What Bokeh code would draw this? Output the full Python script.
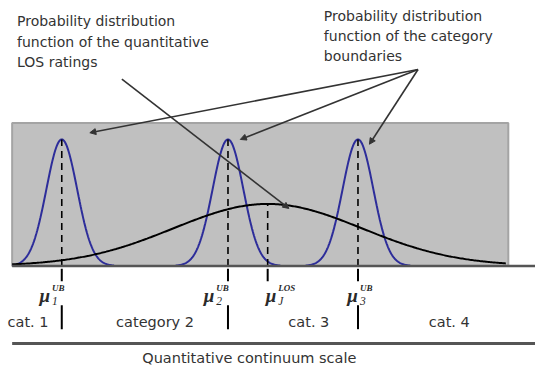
import numpy as np
from bokeh.plotting import figure
from bokeh.models import ColumnDataSource, Range1d, Arrow, NormalHead
from bokeh.embed import file_html
from bokeh.resources import INLINE
from bokeh.core.properties import value

# ---------------- data ----------------
scale_min, scale_max = 0.0, 10.0          # quantitative continuum scale (arbitrary units)
boundary_subs = ["1", "2", "3"]
boundary_means = [1.0, 4.35, 6.97]        # category boundary means mu_k^UB
boundary_sd = 0.31
boundary_peak = 1.0
los_mean = 5.15                           # mu_j^LOS
los_sd = 1.9
los_peak = 0.49
los_end = 9.95
categories = ["cat. 1", "category 2", "cat. 3", "cat. 4"]
category_pos = [0.32, 2.88, 5.98, 8.81]
left_note = ["Probability distribution", "function of the quantitative", "LOS ratings"]
right_note = ["Probability distribution", "function of the category", "boundaries"]
scale_title = "Quantitative continuum scale"

# ---------------- layout helpers ----------------
PXU = 51.1    # reference px per scale unit (x)
PXV = 132.0   # reference px per density unit (y)
TY = 5 / PXV  # text baseline correction
box_top = 1.13
W, H = 535, 367

p = figure(width=W, height=H,
           x_range=Range1d(-12 / PXU, (551 - 12) / PXU),
           y_range=Range1d((277 - 383) / PXV, 277 / PXV),
           output_backend="svg", toolbar_location=None,
           x_axis_type=None, y_axis_type=None, min_border=0)
p.grid.visible = False
p.outline_line_color = None
p.background_fill_color = "white"
p.border_fill_color = "white"

# grey panel
p.quad(left=[scale_min], right=[scale_max], bottom=[0], top=[box_top],
       fill_color="#c0c0c0", line_color="#a4a4a4", line_width=2)

# boundary distributions
for m in boundary_means:
    xs = np.linspace(max(scale_min, m - 3.4 * boundary_sd), min(scale_max, m + 3.4 * boundary_sd), 200)
    ys = boundary_peak * np.exp(-0.5 * ((xs - m) / boundary_sd) ** 2)
    p.line(xs, ys, line_color="#2d2d9a", line_width=2)
    p.line([m, m], [0, boundary_peak], line_color="black", line_width=1.6, line_dash="7 5")

# LOS distribution
xs = np.linspace(scale_min, los_end, 400)
ys = los_peak * np.exp(-0.5 * ((xs - los_mean) / los_sd) ** 2)
p.line(xs, ys, line_color="black", line_width=2)
p.line([los_mean, los_mean], [0, los_peak], line_color="black", line_width=1.6, line_dash="7 5")

# axis lines
axis_end = scale_max + 28 / PXU
p.line([scale_min, axis_end], [0, 0], line_color="#555555", line_width=2.5)
p.line([scale_min, axis_end], [-81 / PXV, -81 / PXV], line_color="#555555", line_width=3)

# ticks
tick_pos = [boundary_means[0], boundary_means[1], los_mean, boundary_means[2]]
for t in tick_pos:
    p.line([t, t], [-3 / PXV, -16 / PXV], line_color="black", line_width=2)
for m in boundary_means:
    p.line([m, m], [-41 / PXV, -66 / PXV], line_color="black", line_width=2)

# mu labels
mu_off = [-23, -25, -2, -11]
sups = ["UB", "UB", "LOS", "UB"]
subs = [boundary_subs[0], boundary_subs[1], "J", boundary_subs[2]]
mu_x = [t + o / PXU for t, o in zip(tick_pos, mu_off)]
serif = value("Liberation Serif")
p.text(x=mu_x, y=[-36 / PXV + TY] * 4, text=["μ"] * 4, text_font=serif, text_font_style="bold italic",
       text_font_size="19px", text_color="#2a2a2a", text_baseline="alphabetic", text_align="left")
p.text(x=[x + 13 / PXU for x in mu_x], y=[-28 / PXV + TY] * 4, text=sups, text_font=serif,
       text_font_style="bold italic", text_font_size="9px", text_color="#2a2a2a",
       text_baseline="alphabetic", text_align="left")
p.text(x=[x + 13 / PXU for x in mu_x], y=[-42 / PXV + TY] * 4, text=subs, text_font=serif,
       text_font_style="italic", text_font_size="11.5px", text_color="#2a2a2a",
       text_baseline="alphabetic", text_align="left")

sans = value("DejaVu Sans")
# category labels
p.text(x=category_pos, y=[-64 / PXV + TY] * 4, text=categories, text_font=sans, text_font_size="14.5px",
       text_color="#333333", text_align="center", text_baseline="alphabetic")
# scale title
p.text(x=[4.78], y=[-101 / PXV + TY], text=[scale_title], text_font=sans, text_font_size="14.5px",
       text_color="#333333", text_align="center", text_baseline="alphabetic")

# notes
p.text(x=[5 / PXU] * 3, y=[(277 - b) / PXV + TY for b in (26.7, 48.0, 69.3)], text=left_note,
       text_font=sans, text_font_size="14px", text_color="#333333",
       text_align="left", text_baseline="alphabetic")
p.text(x=[321 / PXU] * 3, y=[(277 - b) / PXV + TY for b in (20.7, 42.0, 63.3)], text=right_note,
       text_font=sans, text_font_size="14px", text_color="#333333",
       text_align="left", text_baseline="alphabetic")

# pointer arrows
def arrow(x0, y0, x1, y1):
    p.add_layout(Arrow(end=NormalHead(size=6, fill_color="#333333", line_color="#333333"),
                       x_start=x0, y_start=y0, x_end=x1, y_end=y1,
                       line_color="#333333", line_width=1.6))

arrow(113 / PXU, (277 - 82) / PXV, 285 / PXU, (277 - 217) / PXV)
apex = (418 / PXU, (277 - 72) / PXV)
arrow(apex[0], apex[1], 80 / PXU, (277 - 138) / PXV)
arrow(apex[0], apex[1], 235 / PXU, (277 - 145) / PXV)
arrow(apex[0], apex[1], 368 / PXU, (277 - 150) / PXV)

open("out.html", "w").write(file_html(p, INLINE))
